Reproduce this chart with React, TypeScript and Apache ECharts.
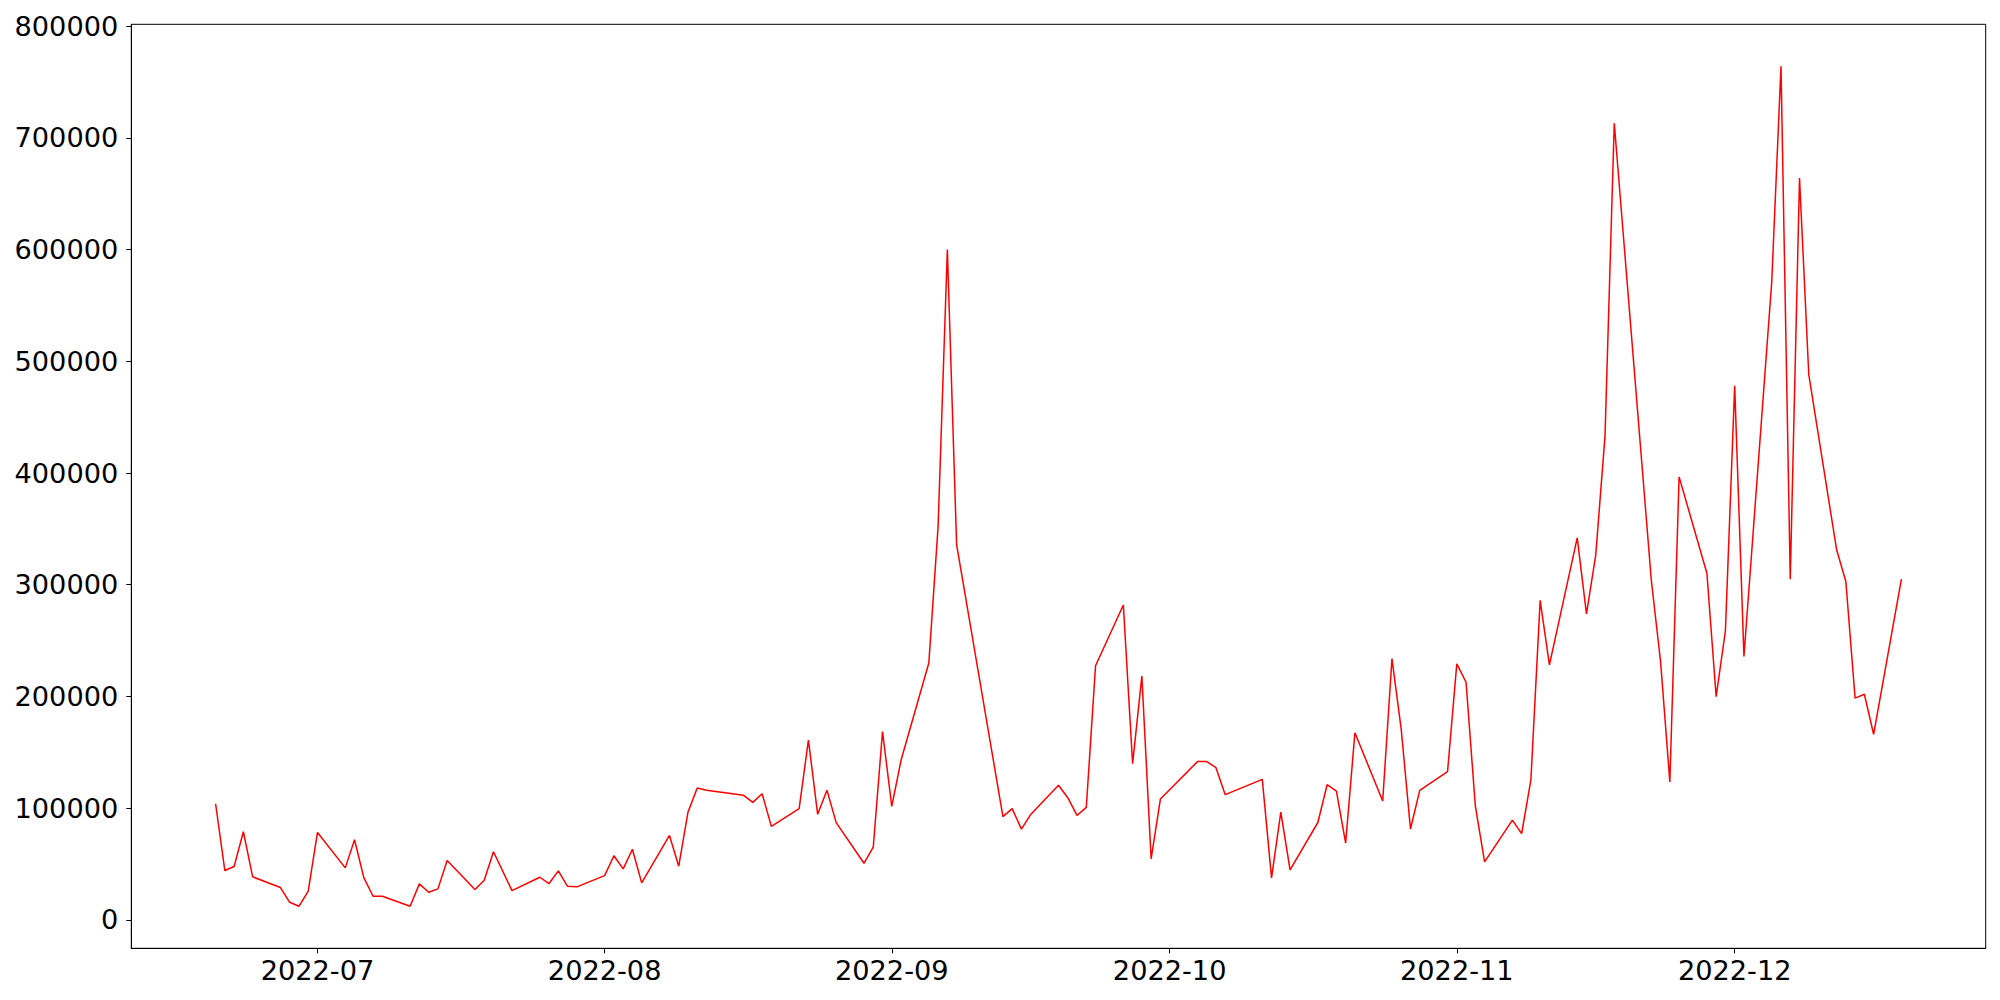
import React, { useEffect, useRef } from "react";
import * as echarts from "echarts";

const DATES: string[] = [
  "2022-06-20", "2022-06-21", "2022-06-22", "2022-06-23", "2022-06-24",
  "2022-06-27", "2022-06-28", "2022-06-29", "2022-06-30", "2022-07-01",
  "2022-07-04", "2022-07-05", "2022-07-06", "2022-07-07", "2022-07-08",
  "2022-07-11", "2022-07-12", "2022-07-13", "2022-07-14", "2022-07-15",
  "2022-07-18", "2022-07-19", "2022-07-20", "2022-07-22",
  "2022-07-25", "2022-07-26", "2022-07-27", "2022-07-28", "2022-07-29",
  "2022-08-01", "2022-08-02", "2022-08-03", "2022-08-04", "2022-08-05",
  "2022-08-08", "2022-08-09", "2022-08-10", "2022-08-11", "2022-08-12",
  "2022-08-16", "2022-08-17", "2022-08-18", "2022-08-19",
  "2022-08-22", "2022-08-23", "2022-08-24", "2022-08-25", "2022-08-26",
  "2022-08-29", "2022-08-30", "2022-08-31", "2022-09-01", "2022-09-02",
  "2022-09-05", "2022-09-06", "2022-09-07", "2022-09-08",
  "2022-09-13", "2022-09-14", "2022-09-15", "2022-09-16",
  "2022-09-19", "2022-09-20", "2022-09-21", "2022-09-22", "2022-09-23",
  "2022-09-26", "2022-09-27", "2022-09-28", "2022-09-29", "2022-09-30",
  "2022-10-04", "2022-10-05", "2022-10-06", "2022-10-07",
  "2022-10-11", "2022-10-12", "2022-10-13", "2022-10-14",
  "2022-10-17", "2022-10-18", "2022-10-19", "2022-10-20", "2022-10-21",
  "2022-10-24", "2022-10-25", "2022-10-26", "2022-10-27", "2022-10-28",
  "2022-10-31", "2022-11-01", "2022-11-02", "2022-11-03", "2022-11-04",
  "2022-11-07", "2022-11-08", "2022-11-09", "2022-11-10", "2022-11-11",
  "2022-11-14", "2022-11-15", "2022-11-16", "2022-11-17", "2022-11-18",
  "2022-11-22", "2022-11-23", "2022-11-24", "2022-11-25",
  "2022-11-28", "2022-11-29", "2022-11-30", "2022-12-01", "2022-12-02",
  "2022-12-05", "2022-12-06", "2022-12-07", "2022-12-08", "2022-12-09",
  "2022-12-12", "2022-12-13", "2022-12-14", "2022-12-15", "2022-12-16",
  "2022-12-19",
];

const VALUES: number[] = [
  104000, 44200, 47800, 78900, 38600,
  29000, 15800, 12200, 25700, 78300,
  46600, 71800, 37900, 21200, 21200,
  12200, 32300, 24800, 27800, 53200,
  27200, 35500, 61000, 26200,
  38200, 32600, 43900, 30100, 29600,
  39700, 57400, 45700, 63300, 33200,
  75600, 48100, 96500, 118000, 116000,
  111500, 105200, 113000, 83700,
  99600, 161000, 94500, 116000, 87100,
  50700, 65100, 168600, 101600, 142900,
  229900, 352000, 600000, 336000,
  92500, 99600, 81300, 94400,
  120500, 109400, 93500, 100700, 227500,
  281900, 139900, 218200, 54700, 108200,
  141700, 141700, 136300, 112100,
  125800, 37700, 96500, 44800,
  87200, 121000, 115300, 68800, 167500,
  106400, 233800, 170600, 81400, 115900,
  132700, 229200, 212700, 102000, 52000,
  89300, 77300, 125400, 286000, 228200,
  342000, 274000, 326600, 433000, 713000,
  304000, 231200, 123500, 396500,
  310300, 199900, 258800, 478000, 235800,
  571000, 764000, 305000, 664000, 488000,
  331600, 302900, 198500, 202000, 166000,
  305000,
];

const X_TICKS: string[] = ["2022-07-01", "2022-08-01", "2022-09-01", "2022-10-01", "2022-11-01", "2022-12-01"];
const Y_TICKS: number[] = [0, 100000, 200000, 300000, 400000, 500000, 600000, 700000, 800000];

const FONT = "DejaVu Sans";
const FONT_SIZE = 27.2;

export default function App() {
  const ref = useRef<HTMLDivElement>(null);

  useEffect(() => {
    if (!ref.current) return;
    const chart = echarts.init(ref.current, null, { renderer: "svg" });

    const times = DATES.map((d) => Date.parse(d + "T00:00:00Z"));
    const data = times.map((t, i) => [t, VALUES[i]]);
    const tMin = Math.min(...times);
    const tMax = Math.max(...times);
    const tPad = (tMax - tMin) * 0.05;
    const vMin = Math.min(...VALUES);
    const vMax = Math.max(...VALUES);
    const vPad = (vMax - vMin) * 0.05;
    const xTicks = X_TICKS.map((d) => Date.parse(d + "T00:00:00Z"));

    const option: any = {
      animation: false,
      backgroundColor: "#ffffff",
      grid: {
        left: 131.3,
        right: 14.3,
        top: 24.3,
        bottom: 51.7,
        show: true,
        borderColor: "#000000",
        borderWidth: 1,
        backgroundColor: "transparent",
      },
      xAxis: {
        type: "value",
        min: tMin - tPad,
        max: tMax + tPad,
        splitLine: { show: false },
        minorTick: { show: false },
        axisLine: { show: true, onZero: false, lineStyle: { color: "#000000", width: 1 } },
        axisTick: { show: true, length: 5, lineStyle: { color: "#000000", width: 1 }, customValues: xTicks },
        axisLabel: {
          customValues: xTicks,
          color: "#000000",
          fontFamily: FONT,
          fontSize: FONT_SIZE,
          margin: 9,
          hideOverlap: false,
          showMinLabel: true,
          showMaxLabel: true,
          formatter: (v: number) => {
            const d = new Date(v);
            return d.getUTCFullYear() + "-" + String(d.getUTCMonth() + 1).padStart(2, "0");
          },
        },
      },
      yAxis: {
        type: "value",
        min: vMin - vPad,
        max: vMax + vPad,
        splitLine: { show: false },
        axisLine: { show: true, onZero: false, lineStyle: { color: "#000000", width: 1 } },
        axisTick: { show: true, length: 5, lineStyle: { color: "#000000", width: 1 }, customValues: Y_TICKS },
        axisLabel: {
          customValues: Y_TICKS,
          color: "#000000",
          fontFamily: FONT,
          fontSize: FONT_SIZE,
          margin: 13,
          formatter: (v: number) => String(v),
        },
      },
      series: [
        {
          type: "line",
          data,
          showSymbol: false,
          symbol: "none",
          lineStyle: { color: "#ff0000", width: 1.5 },
          itemStyle: { color: "#ff0000" },
        },
      ],
    };
    chart.setOption(option);
    return () => chart.dispose();
  }, []);

  return (
    <div
      ref={ref}
      style={{ position: "absolute", left: 0, top: 0, width: 2000, height: 1000, background: "#ffffff" }}
    />
  );
}
